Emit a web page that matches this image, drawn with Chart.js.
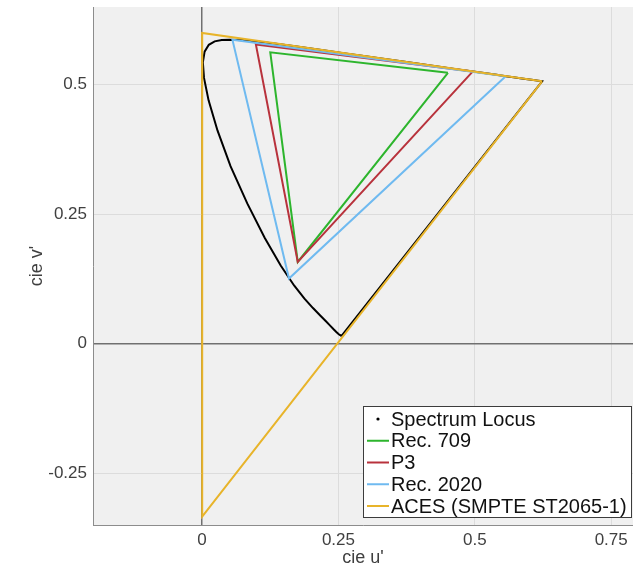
<!DOCTYPE html>
<html>
<head>
<meta charset="utf-8">
<script src="https://cdn.jsdelivr.net/npm/chart.js@4/dist/chart.umd.min.js"></script>
<style>
  html, body { margin: 0; padding: 0; background: #ffffff; }
  #wrap { width: 633px; height: 569px; position: relative; }
</style>
</head>
<body>
<div id="wrap"><canvas id="c" width="633" height="569"></canvas></div>
<script>
// ---- data (CIE 1976 u'v') ----
const locusU = [0.2568, 0.2566, 0.2564, 0.2561, 0.2557, 0.2552, 0.2545, 0.2537, 0.2522, 0.2496, 0.2461, 0.2411, 0.2347, 0.2266, 0.2161, 0.2033, 0.1877, 0.1690, 0.1441, 0.1147, 0.0828, 0.0521, 0.0282, 0.0119, 0.0035, 0.0014, 0.0046, 0.0123, 0.0231, 0.0360, 0.0501, 0.0643, 0.0792, 0.0953, 0.1127, 0.1319, 0.1531, 0.1766, 0.2026, 0.2312, 0.2623, 0.2960, 0.3315, 0.3681, 0.4035, 0.4379, 0.4692, 0.4968, 0.5203, 0.5399, 0.5565, 0.5709, 0.5830, 0.5929, 0.6005, 0.6109, 0.6162, 0.6199, 0.6234, 0.2568];
const locusV = [0.0166, 0.0166, 0.0163, 0.0163, 0.0159, 0.0159, 0.0159, 0.0159, 0.0169, 0.0191, 0.0226, 0.0279, 0.0350, 0.0437, 0.0549, 0.0688, 0.0871, 0.1119, 0.1510, 0.2044, 0.2708, 0.3427, 0.4117, 0.4698, 0.5131, 0.5432, 0.5638, 0.5770, 0.5837, 0.5861, 0.5868, 0.5865, 0.5856, 0.5841, 0.5821, 0.5796, 0.5766, 0.5732, 0.5694, 0.5651, 0.5604, 0.5554, 0.5501, 0.5446, 0.5393, 0.5342, 0.5296, 0.5254, 0.5219, 0.5190, 0.5165, 0.5143, 0.5125, 0.5111, 0.5099, 0.5084, 0.5076, 0.5070, 0.5065, 0.0166];

const rec709U  = [0.4507, 0.1250, 0.1754, 0.4507];
const rec709V  = [0.5229, 0.5625, 0.1579, 0.5229];
const p3U      = [0.4964, 0.0986, 0.1754, 0.4964];
const p3V      = [0.5256, 0.5777, 0.1579, 0.5256];
const rec2020U = [0.5566, 0.0556, 0.1593, 0.5566];
const rec2020V = [0.5165, 0.5869, 0.1258, 0.5165];
const acesU    = [0.6234, 0.0000, 0.0002, 0.6234];
const acesV    = [0.5065, 0.6000, -0.3338, 0.5065];

const seriesNames = ['Spectrum Locus', 'Rec. 709', 'P3', 'Rec. 2020', 'ACES (SMPTE ST2065-1)'];
const xTicks = [0, 0.25, 0.5, 0.75];
const yTicks = [-0.25, 0, 0.25, 0.5];
const xTickLabels = ['0', '0.25', '0.5', '0.75'];
const yTickLabels = ['-0.25', '0', '0.25', '0.5'];

const colors = ['#000000', '#2db52d', '#b8323c', '#6fbaf0', '#e8b42a'];

function pts(us, vs) { return us.map((u, i) => ({ x: u, y: vs[i] })); }

const FONT = "'Liberation Sans', Arial, sans-serif";

const bgPlugin = {
  id: 'bg',
  beforeDraw(chart) {
    const { ctx, chartArea: a } = chart;
    ctx.save();
    ctx.fillStyle = '#f0f0f0';
    ctx.fillRect(a.left, a.top, a.right - a.left, a.bottom - a.top);
    ctx.restore();
  }
};

const legendPlugin = {
  id: 'customLegend',
  afterDraw(chart) {
    const ctx = chart.ctx;
    const x0 = 363, y0 = 406, w = 269, h = 112;
    ctx.save();
    ctx.fillStyle = '#ffffff';
    ctx.fillRect(x0, y0, w, h);
    ctx.strokeStyle = '#3c3c3c';
    ctx.lineWidth = 1;
    ctx.strokeRect(x0 + 0.5, y0 + 0.5, w - 1, h - 1);
    ctx.font = '20px ' + FONT;
    ctx.textBaseline = 'middle';
    ctx.textAlign = 'left';
    const rowH = 21.75;
    seriesNames.forEach((name, i) => {
      const cy = y0 + 13 + i * rowH;
      if (i === 0) {
        ctx.fillStyle = '#000';
        ctx.beginPath();
        ctx.arc(378, cy, 1.6, 0, Math.PI * 2);
        ctx.fill();
      } else {
        ctx.strokeStyle = colors[i];
        ctx.lineWidth = 2;
        ctx.beginPath();
        ctx.moveTo(367, cy);
        ctx.lineTo(389, cy);
        ctx.stroke();
      }
      ctx.fillStyle = '#111111';
      ctx.fillText(name, 391, cy + 1);
    });
    ctx.restore();
  }
};

const seriesData = [
  pts(locusU, locusV),
  pts(rec709U, rec709V),
  pts(p3U, p3V),
  pts(rec2020U, rec2020V),
  pts(acesU, acesV)
];

new Chart(document.getElementById('c'), {
  type: 'scatter',
  data: {
    datasets: seriesData.map((d, i) => ({
      label: seriesNames[i],
      data: d,
      showLine: true,
      borderColor: colors[i],
      backgroundColor: colors[i],
      borderWidth: 2,
      pointRadius: 0,
      tension: 0,
      order: 5 - i
    }))
  },
  options: {
    responsive: false,
    animation: false,
    devicePixelRatio: 1,
    layout: { padding: { top: 7, right: 0, left: 0, bottom: 0 } },
    plugins: {
      legend: { display: false },
      tooltip: { enabled: false }
    },
    scales: {
      x: {
        type: 'linear',
        min: -0.2,
        max: 0.79,
        afterBuildTicks(scale) { scale.ticks = xTicks.map(v => ({ value: v })); },
        afterFit(scale) { scale.height = 44; scale.paddingLeft = 0; scale.paddingRight = 0; },
        ticks: {
          padding: 5,
          color: '#404040',
          font: { family: FONT, size: 17 },
          callback: (v) => xTickLabels[xTicks.indexOf(v)]
        },
        grid: {
          drawTicks: false,
          color: (c) => (c.tick && c.tick.value === 0) ? '#707070' : '#dcdcdc',
          lineWidth: (c) => (c.tick && c.tick.value === 0) ? 1.5 : 1
        },
        border: { display: true, color: '#8c8c8c', width: 1 },
        title: {
          display: true,
          text: "cie u'",
          color: '#404040',
          font: { family: FONT, size: 18 },
          padding: { top: 0, bottom: 0 }
        }
      },
      y: {
        type: 'linear',
        min: -0.35,
        max: 0.65,
        afterBuildTicks(scale) { scale.ticks = yTicks.map(v => ({ value: v })); },
        afterFit(scale) { scale.width = 93; scale.paddingTop = 0; scale.paddingBottom = 0; },
        ticks: {
          padding: 6,
          color: '#404040',
          font: { family: FONT, size: 17 },
          callback: (v) => yTickLabels[yTicks.indexOf(v)]
        },
        grid: {
          drawTicks: false,
          color: (c) => (c.tick && c.tick.value === 0) ? '#707070' : '#dcdcdc',
          lineWidth: (c) => (c.tick && c.tick.value === 0) ? 1.5 : 1
        },
        border: { display: true, color: '#8c8c8c', width: 1 },
        title: {
          display: true,
          text: "cie v'",
          color: '#404040',
          font: { family: FONT, size: 18 },
          padding: { top: 26, bottom: 0 }
        }
      }
    }
  },
  plugins: [bgPlugin, legendPlugin]
});
</script>
</body>
</html>
